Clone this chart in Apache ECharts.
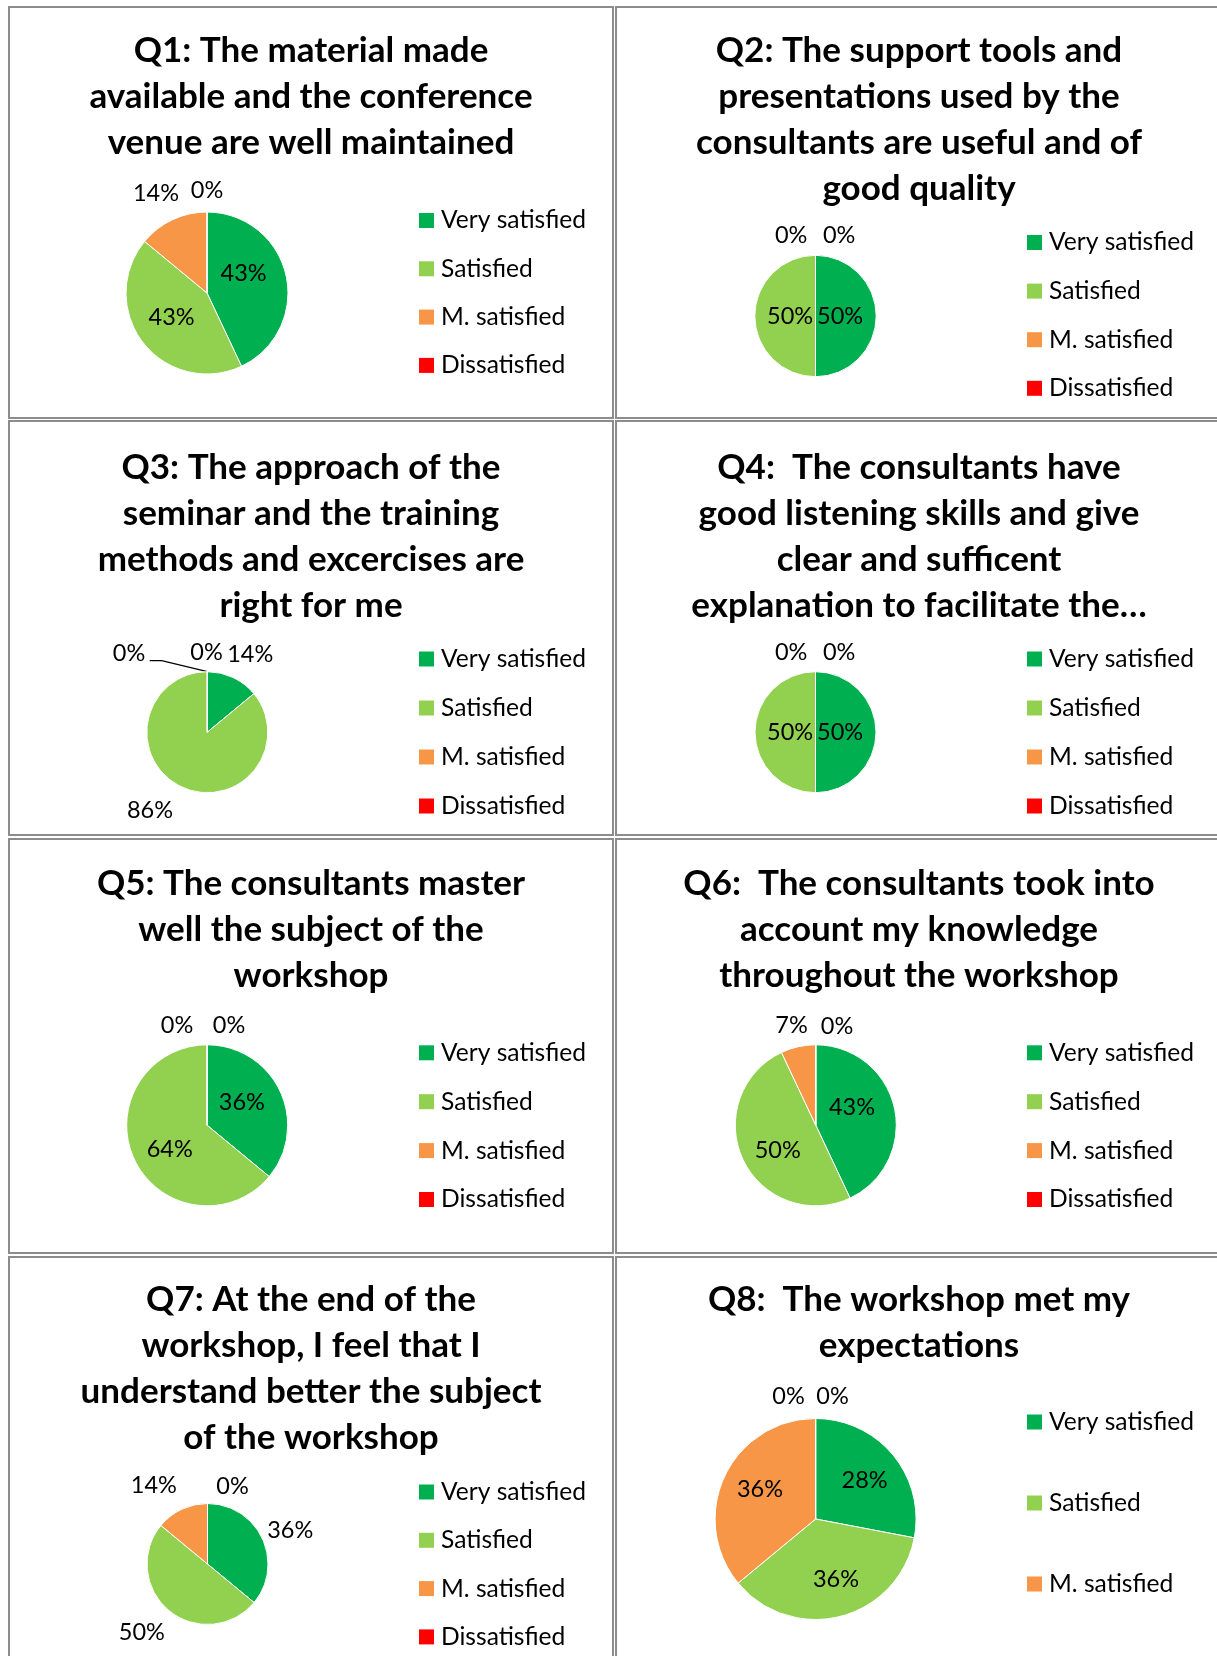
<!DOCTYPE html>
<html>
<head>
<meta charset="utf-8">
<script src="https://cdn.jsdelivr.net/npm/echarts@6/dist/echarts.min.js"></script>
<style>
html,body{margin:0;padding:0;width:1217px;height:1656px;overflow:hidden;background:#fff;}
.cell{position:absolute;box-sizing:border-box;border:2px solid #8c8c8c;}
#chart{position:absolute;left:0;top:0;width:1217px;height:1656px;}
</style>
</head>
<body>
<div class="cell" style="left:8px;top:6px;width:606px;height:413px"></div>
<div class="cell" style="left:615px;top:6px;width:700px;height:413px"></div>
<div class="cell" style="left:8px;top:420px;width:606px;height:416px"></div>
<div class="cell" style="left:615px;top:420px;width:700px;height:416px"></div>
<div class="cell" style="left:8px;top:838px;width:606px;height:416px"></div>
<div class="cell" style="left:615px;top:838px;width:700px;height:416px"></div>
<div class="cell" style="left:8px;top:1256px;width:606px;height:500px"></div>
<div class="cell" style="left:615px;top:1256px;width:700px;height:500px"></div>
<div id="chart"></div>
<script>
// ---- data ----
const categories = ['Very satisfied', 'Satisfied', 'M. satisfied', 'Dissatisfied'];
const q8Categories = ['Very satisfied', 'Satisfied', 'M. satisfied', 'Dissatisfied', 'Very dissatisfied'];

const q1Values = [43, 43, 14, 0];
const q2Values = [50, 50, 0, 0];
const q3Values = [14, 86, 0, 0];
const q4Values = [50, 50, 0, 0];
const q5Values = [36, 64, 0, 0];
const q6Values = [43, 50, 7, 0];
const q7Values = [36, 50, 14, 0];
const q8Values = [28, 36, 36, 0, 0];

const q1Title = 'Q1: The material made\navailable and the conference\nvenue are well maintained';
const q2Title = 'Q2: The support tools and\npresentations used by the\nconsultants are useful and of\ngood quality';
const q3Title = 'Q3: The approach of the\nseminar and the training\nmethods and excercises are\nright for me';
const q4Title = 'Q4:  The consultants have\ngood listening skills and give\nclear and sufficent\nexplanation to facilitate the\u2026';
const q5Title = 'Q5: The consultants master\nwell the subject of the\nworkshop';
const q6Title = 'Q6:  The consultants took into\naccount my knowledge\nthroughout the workshop';
const q7Title = 'Q7: At the end of the\nworkshop, I feel that I\nunderstand better the subject\nof the workshop';
const q8Title = 'Q8:  The workshop met my\nexpectations';

// ---- style / layout ----
const COLORS = ['#00B050', '#92D050', '#F79646', '#FF0000', '#C00000'];
const FONT = 'Lato';

const panels = [
  {title: q1Title, cats: categories, values: q1Values, tx: 311, ty: 27.4, c: [207, 293], r: 81,
   lx: 419, ly: 208, lg: 23.3, nudge: [[-5.9, -9.7], [-1, -2.2], [-32.5, -60.6], [0, -59.5]]},
  {title: q2Title, cats: categories, values: q2Values, tx: 919, ty: 27.4, c: [815.5, 316], r: 60.7,
   lx: 1027, ly: 230, lg: 23.6, nudge: [[-8.7, 0], [7.9, 0], [-24.3, -46.9], [23.7, -46.9]]},
  {title: q3Title, cats: categories, values: q3Values, tx: 311, ty: 444.5, c: [207.3, 732.2], r: 60.5,
   lx: 419, ly: 646.5, lg: 24, nudge: [[28.8, -47.8], [-43.2, 47.7], [-0.7, -47], null], leader: 3},
  {title: q4Title, cats: categories, values: q4Values, tx: 919, ty: 444.5, c: [815.5, 732.2], r: 60.5,
   lx: 1027, ly: 646.5, lg: 24, nudge: [[-8.6, 0], [7.9, 0], [-24.3, -46.5], [23.7, -46.5]]},
  {title: q5Title, cats: categories, values: q5Values, tx: 311, ty: 860.7, c: [207.2, 1125.3], r: 80.5,
   lx: 419, ly: 1040.3, lg: 23.9, nudge: [[-4.5, -4.4], [1.7, 5.5], [-30.2, -56.8], [21.8, -56.8]]},
  {title: q6Title, cats: categories, values: q6Values, tx: 919, ty: 860.7, c: [815.8, 1125.3], r: 80.5,
   lx: 1027, ly: 1040.3, lg: 23.9, nudge: [[-6, -8.4], [1.1, 6.3], [-14.8, -58.1], [21.2, -55.4]]},
  {title: q7Title, cats: categories, values: q7Values, tx: 311, ty: 1276.4, c: [207.5, 1564], r: 60.5,
   lx: 419, ly: 1479.5, lg: 23.3, nudge: [[52.6, -19], [-44.5, 42.9], [-39.5, -48.9], [25, -44.1]]},
  {title: q8Title, cats: q8Categories, values: q8Values, tx: 919, ty: 1276.4, c: [815.6, 1519], r: 100.5,
   lx: 1027, ly: 1409.5, lg: 56, nudge: [[8, -4.3], [7.1, 8.6], [-7.4, -7.1], [-27.1, -69.1], [17, -69.1]]}
];

const chart = echarts.init(document.getElementById('chart'), null, {renderer: 'canvas'});

const option = {
  animation: false,
  color: COLORS,
  backgroundColor: 'transparent',
  title: panels.map(p => ({
    text: p.title,
    left: p.tx,
    top: p.ty,
    textAlign: 'center',
    padding: 0,
    textStyle: {fontFamily: FONT, fontWeight: 'bold', fontSize: 35, lineHeight: 46, color: '#000'}
  })),
  legend: panels.map(p => ({
    orient: 'vertical',
    left: p.lx,
    top: p.ly,
    padding: 0,
    itemGap: p.lg,
    itemWidth: 15,
    itemHeight: 15,
    icon: 'rect',
    selectedMode: false,
    itemStyle: {borderWidth: 0},
    data: p.cats.slice(),
    textStyle: {fontFamily: FONT, fontSize: 24.6, lineHeight: 24, color: '#000', padding: [0, 0, 0, 2]}
  })),
  series: panels.map((p, si) => ({
    type: 'pie',
    center: p.c,
    radius: p.r,
    startAngle: 90,
    clockwise: true,
    avoidLabelOverlap: false,
    percentPrecision: 0,
    emphasis: {disabled: true},
    itemStyle: {borderColor: '#fff', borderWidth: 1},
    label: {show: true, position: 'inside', formatter: '{d}%', fontFamily: FONT, fontSize: 23.5, color: '#000'},
    labelLine: {show: false},
    data: p.cats.map((name, i) => {
      const item = {name: name, value: p.values[i]};
      if (p.leader === i) {
        item.label = {position: 'outside'};
        item.labelLine = {show: true, length: 10, length2: 10, lineStyle: {color: '#000', width: 1.2}};
      }
      return item;
    }),
    labelLayout: function (params) {
      const i = params.dataIndex;
      if (p.leader === i) {
        const ex = p.c[0], ey = p.c[1] - p.r;
        return {
          x: ex - 78.3, y: ey - 18.7, align: 'center', verticalAlign: 'middle',
          labelLinePoints: [[ex, ey], [ex - 45.6, ey - 11], [ex - 57.6, ey - 11]]
        };
      }
      const n = p.nudge[i] || [0, 0];
      return {dx: n[0], dy: n[1]};
    }
  }))
};

chart.setOption(option);
</script>
</body>
</html>
